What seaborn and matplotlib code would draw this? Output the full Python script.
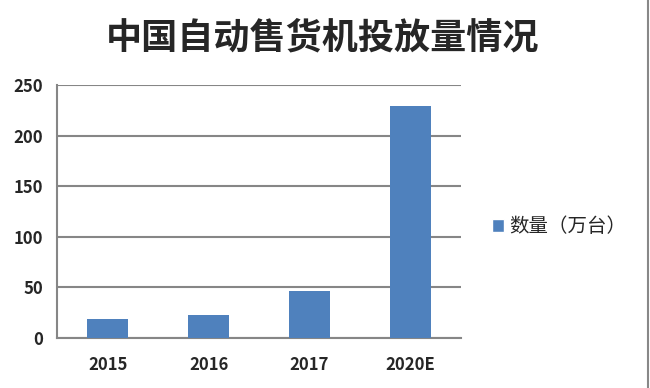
import pandas as pd
import matplotlib
matplotlib.use("Agg")
import matplotlib.pyplot as plt
import seaborn as sns
from matplotlib.lines import Line2D
from matplotlib.patches import Patch

years = ["2015", "2016", "2017", "2020E"]
counts = [19, 23, 46, 229]
series_name = "数量（万台）"
title = "中国自动售货机投放量情况"

df = pd.DataFrame({"year": years, "count": counts})

sns.set_style("white")
plt.rcParams["font.family"] = ["Noto Sans CJK SC", "DejaVu Sans"]

fig = plt.figure(figsize=(6.5, 3.88), dpi=100)
ax = fig.add_axes([0.088, 0.129, 0.621, 0.652])

sns.barplot(data=df, x="year", y="count", color="#4F81BD", width=0.4,
            saturation=1, linewidth=0, ax=ax, zorder=3)

grid_c = "#868686"
ax.set_ylim(0, 250)
ax.set_yticks(range(0, 251, 50))
ax.set_xlim(-0.5, 3.5)
ax.yaxis.grid(True, color=grid_c, linewidth=1.5, zorder=0)
ax.set_xticks([-0.5, 0.5, 1.5, 2.5, 3.5], minor=True)
ax.tick_params(axis="x", which="major", length=0, pad=13, labelsize=12)
ax.tick_params(axis="x", which="minor", length=5, width=1.5, color=grid_c)
ax.tick_params(axis="y", length=5, width=1.5, color=grid_c, labelsize=12, pad=5)
for lab in ax.get_xticklabels() + ax.get_yticklabels():
    lab.set_fontweight("bold")
for side in ["top", "right"]:
    ax.spines[side].set_visible(False)
for side in ["left", "bottom"]:
    ax.spines[side].set_color(grid_c)
    ax.spines[side].set_linewidth(1.5)
ax.set_xlabel("")
ax.set_ylabel("")

handles = [Patch(facecolor="#4F81BD", label=series_name)]
fig.legend(handles=handles, loc="center left", bbox_to_anchor=(0.73, 0.415),
           frameon=False, fontsize=14, handlelength=0.6, handleheight=0.6,
           handletextpad=0.3)

fig.suptitle(title, x=0.497, y=0.95, fontsize=26, fontweight="semibold")

fig.add_artist(Line2D([0.997, 0.997], [0, 1], color="#888888", linewidth=1.5))

fig.savefig("out.png", dpi=100)
